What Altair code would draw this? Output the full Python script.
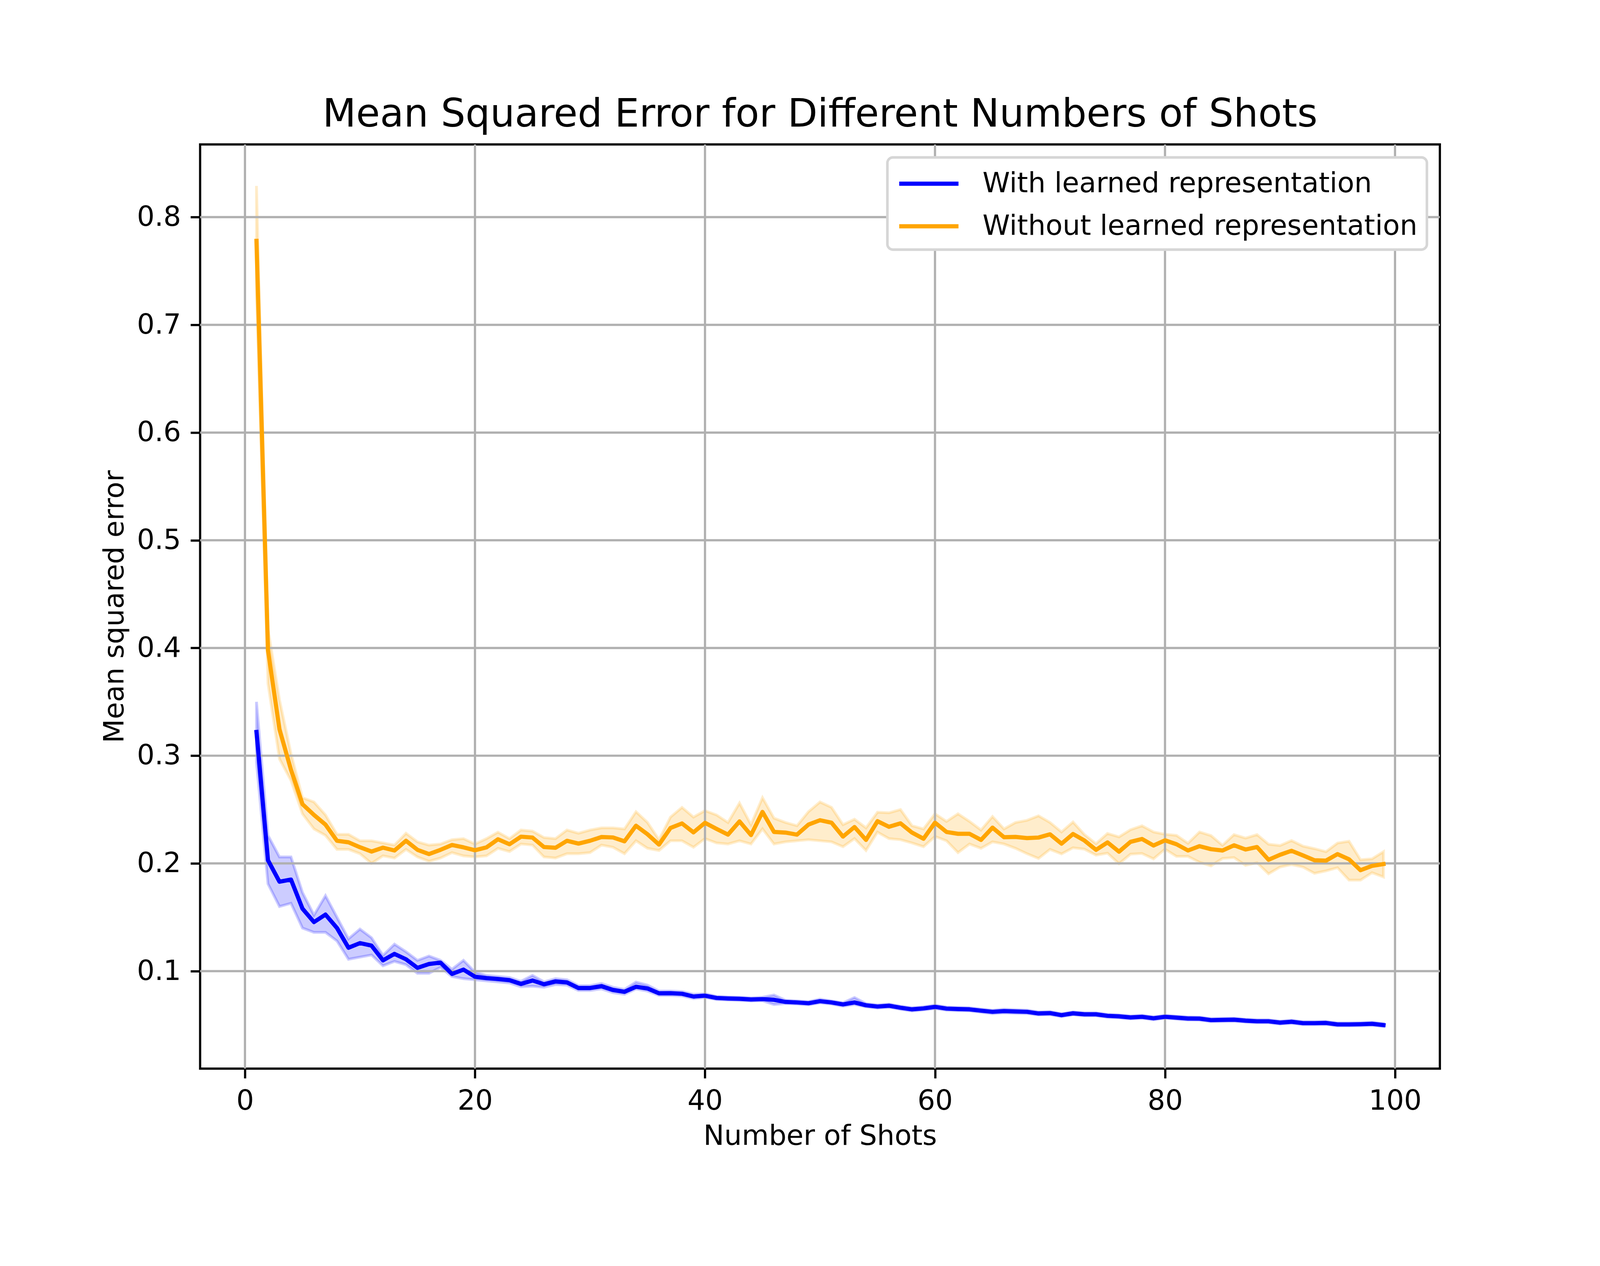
import altair as alt
import pandas as pd

shots = list(range(1, 100))

blue_mean = [0.322, 0.203, 0.183, 0.185, 0.158, 0.1455, 0.1525, 0.140, 0.1217, 0.126,
             0.1237, 0.110, 0.116, 0.111, 0.103, 0.1066, 0.1079, 0.0974, 0.1014, 0.0948,
             0.0935, 0.0927, 0.0916, 0.0881, 0.0913, 0.0878, 0.0904, 0.0895, 0.0843, 0.0843,
             0.0860, 0.0825, 0.0808, 0.0855, 0.0839, 0.0794, 0.0795, 0.0790, 0.0764, 0.0772,
             0.0751, 0.0746, 0.0743, 0.0737, 0.0740, 0.0734, 0.0714, 0.0709, 0.0702, 0.0721,
             0.0709, 0.0691, 0.0709, 0.0683, 0.0671, 0.0679, 0.0660, 0.0645, 0.0654, 0.0668,
             0.0652, 0.0648, 0.0645, 0.0633, 0.0622, 0.0629, 0.0625, 0.0622, 0.0607, 0.0610,
             0.0591, 0.0608, 0.0599, 0.0599, 0.0585, 0.0580, 0.0570, 0.0576, 0.0562, 0.0576,
             0.0568, 0.0560, 0.0559, 0.0545, 0.0547, 0.0549, 0.0540, 0.0534, 0.0534, 0.0522,
             0.0530, 0.0517, 0.0517, 0.0519, 0.0505, 0.0505, 0.0507, 0.0511, 0.0499]

blue_lower = [0.294, 0.181, 0.160, 0.163, 0.140, 0.136, 0.136, 0.128, 0.111, 0.113,
              0.115, 0.105, 0.109, 0.106, 0.098, 0.098, 0.1035, 0.095, 0.093, 0.092,
              0.091, 0.090, 0.089, 0.0855, 0.086, 0.085, 0.0875, 0.087, 0.082, 0.082,
              0.0835, 0.080, 0.0785, 0.0834, 0.0815, 0.0775, 0.0775, 0.077, 0.0745, 0.0755,
              0.0736, 0.0731, 0.0728, 0.0722, 0.0725, 0.0690, 0.0699, 0.0694, 0.0687, 0.0705,
              0.0694, 0.0674, 0.0690, 0.0668, 0.0656, 0.0664, 0.0645, 0.0630, 0.0639, 0.0652,
              0.0637, 0.0633, 0.0630, 0.0618, 0.0605, 0.0612, 0.0608, 0.0606, 0.0592, 0.0595,
              0.0577, 0.0594, 0.0585, 0.0585, 0.0571, 0.0566, 0.0556, 0.0562, 0.0548, 0.0562,
              0.0554, 0.0545, 0.0545, 0.0531, 0.0533, 0.0535, 0.0526, 0.0520, 0.0520, 0.0508,
              0.0516, 0.0503, 0.0503, 0.0505, 0.0491, 0.0491, 0.0493, 0.0497, 0.0485]

blue_upper = [0.350, 0.226, 0.206, 0.206, 0.173, 0.152, 0.170, 0.150, 0.130, 0.139,
              0.131, 0.1146, 0.125, 0.118, 0.110, 0.114, 0.110, 0.1017, 0.110, 0.099,
              0.096, 0.095, 0.094, 0.0905, 0.096, 0.090, 0.093, 0.092, 0.0865, 0.0865,
              0.0885, 0.085, 0.0830, 0.0898, 0.087, 0.0815, 0.0815, 0.081, 0.0785, 0.079,
              0.0766, 0.0761, 0.0758, 0.0752, 0.0757, 0.0778, 0.0729, 0.0724, 0.0717, 0.0740,
              0.0724, 0.0706, 0.0755, 0.0698, 0.0686, 0.0694, 0.0675, 0.0660, 0.0669, 0.0684,
              0.0667, 0.0663, 0.0660, 0.0648, 0.0637, 0.0646, 0.0642, 0.0638, 0.0622, 0.0625,
              0.0605, 0.0622, 0.0613, 0.0613, 0.0599, 0.0594, 0.0584, 0.0590, 0.0576, 0.0590,
              0.0582, 0.0575, 0.0573, 0.0559, 0.0561, 0.0563, 0.0554, 0.0548, 0.0548, 0.0536,
              0.0544, 0.0531, 0.0531, 0.0533, 0.0519, 0.0519, 0.0521, 0.0525, 0.0513]

orange_mean = [0.778, 0.398, 0.3245, 0.287, 0.255, 0.245, 0.236, 0.221, 0.2196, 0.215,
               0.211, 0.2146, 0.212, 0.221, 0.2126, 0.2087, 0.2126, 0.2171, 0.2149, 0.2122,
               0.2149, 0.2224, 0.2178, 0.2248, 0.2240, 0.2152, 0.2145, 0.2210, 0.2184, 0.2210,
               0.2245, 0.2241, 0.2205, 0.2350, 0.2271, 0.2175, 0.2329, 0.2371, 0.2288, 0.2377,
               0.2321, 0.2267, 0.2390, 0.2263, 0.2478, 0.2292, 0.2286, 0.2267, 0.2361, 0.2401,
               0.2378, 0.2249, 0.2338, 0.2218, 0.2392, 0.2340, 0.2372, 0.2286, 0.2229, 0.2378,
               0.2292, 0.2275, 0.2275, 0.2218, 0.2332, 0.2243, 0.2246, 0.2235, 0.2240, 0.2270,
               0.2183, 0.2273, 0.2212, 0.2126, 0.2195, 0.2109, 0.2200, 0.2227, 0.2166, 0.2214,
               0.2178, 0.2120, 0.2160, 0.2132, 0.2120, 0.2168, 0.2129, 0.2152, 0.2034, 0.2080,
               0.2117, 0.2074, 0.2029, 0.2026, 0.2086, 0.2038, 0.1937, 0.1977, 0.1994]

orange_lower = [0.728, 0.367, 0.297, 0.277, 0.246, 0.232, 0.226, 0.213, 0.213, 0.209,
                0.200, 0.207, 0.205, 0.213, 0.206, 0.202, 0.205, 0.210, 0.207, 0.206,
                0.207, 0.214, 0.211, 0.218, 0.217, 0.206, 0.205, 0.209, 0.209, 0.210,
                0.217, 0.215, 0.209, 0.221, 0.214, 0.212, 0.221, 0.221, 0.215, 0.223,
                0.219, 0.218, 0.221, 0.218, 0.232, 0.218, 0.220, 0.221, 0.222, 0.221,
                0.220, 0.2155, 0.223, 0.212, 0.229, 0.223, 0.222, 0.219, 0.2155, 0.225,
                0.221, 0.210, 0.218, 0.214, 0.220, 0.218, 0.214, 0.209, 0.2046, 0.213,
                0.2088, 0.2145, 0.2132, 0.2077, 0.2095, 0.1997, 0.2086, 0.2092, 0.2042, 0.2132,
                0.2065, 0.2065, 0.2011, 0.1977, 0.2046, 0.2054, 0.1983, 0.2006, 0.1903, 0.1966,
                0.1989, 0.1966, 0.1908, 0.1931, 0.1960, 0.1845, 0.1845, 0.1914, 0.1874]

orange_upper = [0.829, 0.418, 0.352, 0.302, 0.261, 0.257, 0.245, 0.227, 0.227, 0.221,
                0.221, 0.219, 0.217, 0.228, 0.220, 0.217, 0.218, 0.222, 0.223, 0.218,
                0.223, 0.229, 0.223, 0.231, 0.230, 0.224, 0.223, 0.231, 0.228, 0.231,
                0.233, 0.233, 0.232, 0.248, 0.238, 0.222, 0.243, 0.252, 0.243, 0.249,
                0.245, 0.238, 0.256, 0.236, 0.261, 0.242, 0.238, 0.235, 0.248, 0.257,
                0.252, 0.236, 0.241, 0.233, 0.2475, 0.247, 0.250, 0.235, 0.232, 0.246,
                0.239, 0.246, 0.239, 0.231, 0.2435, 0.232, 0.238, 0.240, 0.2442, 0.238,
                0.2292, 0.2384, 0.2267, 0.2183, 0.2278, 0.2246, 0.2313, 0.2349, 0.2292, 0.2271,
                0.2260, 0.2187, 0.2292, 0.2258, 0.2168, 0.2267, 0.2235, 0.2267, 0.2178, 0.2166,
                0.2212, 0.2160, 0.2137, 0.2109, 0.2189, 0.2206, 0.2034, 0.2042, 0.2109]

series_names = ["With learned representation", "Without learned representation"]
series_colors = ["blue", "orange"]
x_ticks = [0, 20, 40, 60, 80, 100]
y_ticks = [0.1, 0.2, 0.3, 0.4, 0.5, 0.6, 0.7, 0.8]

FONT = "DejaVu Sans"

df = pd.concat([
    pd.DataFrame({"shot": shots, "mean": blue_mean, "lower": blue_lower,
                  "upper": blue_upper, "series": series_names[0]}),
    pd.DataFrame({"shot": shots, "mean": orange_mean, "lower": orange_lower,
                  "upper": orange_upper, "series": series_names[1]}),
])
xt = pd.DataFrame({"xtick": x_ticks})
yt = pd.DataFrame({"ytick": y_ticks})

xscale = alt.Scale(domain=[-3.9, 103.9], nice=False, zero=False)
yscale = alt.Scale(domain=[0.0095, 0.8675], nice=False, zero=False)
cscale = alt.Scale(domain=series_names, range=series_colors)

XAXIS = alt.Axis(title="Number of Shots", values=x_ticks, format="d")
YAXIS = alt.Axis(title="Mean squared error", values=y_ticks, format=".1f")
LEG = alt.Legend(
    title=None, orient="top-right", offset=35, padding=25,
    symbolType="M-2,0H2", symbolSize=6400, symbolStrokeWidth=11.25,
    symbolOffset=41,
    labelFont=FONT, labelFontSize=75, labelColor="black", labelLimit=3000,
    labelOffset=99, rowPadding=31,
    strokeColor="#d6d6d6", fillColor="white", cornerRadius=15,
)

band = alt.Chart(df).mark_area(
    fillOpacity=0.2, strokeOpacity=0.2, strokeWidth=7.5
).encode(
    x=alt.X("shot:Q", scale=xscale, axis=XAXIS),
    y=alt.Y("lower:Q", scale=yscale, axis=YAXIS),
    y2="upper:Q",
    color=alt.Color("series:N", scale=cscale, legend=LEG),
    stroke=alt.Stroke("series:N", scale=cscale, legend=LEG),
    detail="series:N",
)

vgrid = alt.Chart(xt).mark_rule(color="#b0b0b0", strokeWidth=6).encode(
    x=alt.X("xtick:Q", scale=xscale, axis=XAXIS)
)
hgrid = alt.Chart(yt).mark_rule(color="#b0b0b0", strokeWidth=6).encode(
    y=alt.Y("ytick:Q", scale=yscale, axis=YAXIS)
)

lines = alt.Chart(df).mark_line(
    strokeWidth=11.25, strokeCap="square", strokeJoin="round"
).encode(
    x=alt.X("shot:Q", scale=xscale, axis=XAXIS),
    y=alt.Y("mean:Q", scale=yscale, axis=YAXIS),
    color=alt.Color("series:N", scale=cscale, legend=LEG),
)

chart = alt.layer(band, vgrid, hgrid, lines).properties(
    width=3348, height=2495,
    title=alt.TitleParams(
        "Mean Squared Error for Different Numbers of Shots",
        font=FONT, fontSize=105, fontWeight="normal", color="black",
        anchor="middle", frame="group", offset=-60, baseline="alphabetic",
    ),
    padding={"left": 532, "top": 293, "right": 424, "bottom": 436},
    autosize=alt.AutoSizeParams(type="none"),
    background="white",
).configure_view(
    stroke="black", strokeWidth=6
).configure_legend(
    strokeWidth=7
).configure_axis(
    labelFont=FONT, labelFontSize=75, labelColor="black",
    titleFont=FONT, titleFontSize=75, titleFontWeight="normal", titleColor="black",
    tickColor="black", tickWidth=6, tickSize=26, labelPadding=26,
    domain=False, grid=False, titlePadding=20,
)

chart.save("out.html", embed_options={"renderer": "svg", "actions": False})
